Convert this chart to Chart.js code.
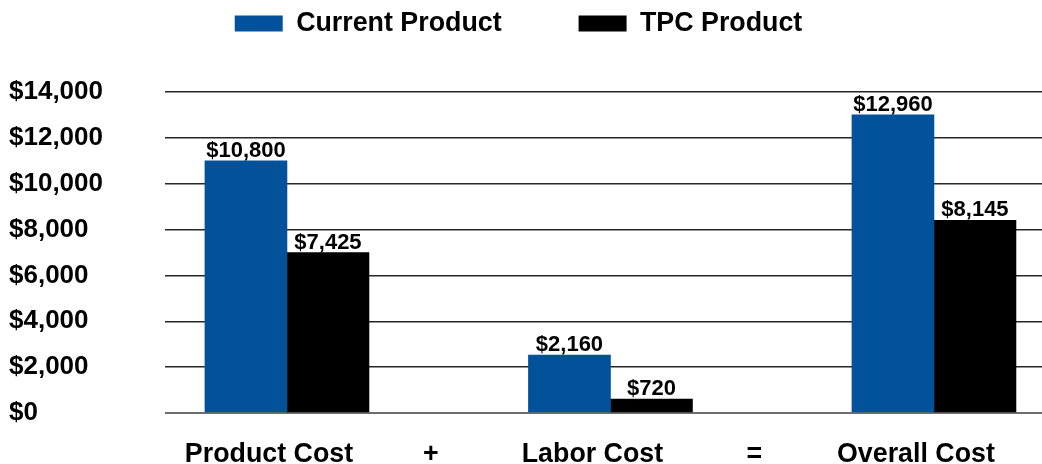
<!DOCTYPE html>
<html>
<head>
<meta charset="utf-8">
<script src="https://cdn.jsdelivr.net/npm/chart.js@4/dist/chart.umd.min.js"></script>
<style>
  html, body { margin: 0; padding: 0; background: #ffffff; }
  #wrap { width: 1042px; height: 464px; position: relative; }
</style>
</head>
<body>
<div id="wrap"><canvas id="c"></canvas></div>
<script>
// ---- data ----
const categories = ['Product Cost', '+', 'Labor Cost', '=', 'Overall Cost'];
const seriesNames = ['Current Product', 'TPC Product'];
// bar heights as drawn in the picture (null = no bar)
const currentProduct = [11000, null, 2530, null, 13000];
const tpcProduct = [7000, null, 610, null, 8400];
// value labels printed above the bars
const currentLabels = ['$10,800', null, '$2,160', null, '$12,960'];
const tpcLabels = ['$7,425', null, '$720', null, '$8,145'];
// y axis ticks
const yTicks = [0, 2000, 4000, 6000, 8000, 10000, 12000, 14000];
const yTickLabels = ['$0', '$2,000', '$4,000', '$6,000', '$8,000', '$10,000', '$12,000', '$14,000'];

const FONT = "'Liberation Sans', Arial, Helvetica, sans-serif";

function toPoints(values) {
  return values.map((v, i) => ({ x: i, y: v })).filter(p => p.y !== null);
}

const valueLabelPlugin = {
  id: 'valueLabels',
  afterDatasetsDraw(chart) {
    const ctx = chart.ctx;
    const labelSets = [currentLabels, tpcLabels];
    ctx.save();
    ctx.font = 'bold 22px ' + FONT;
    ctx.fillStyle = '#000';
    ctx.textAlign = 'center';
    ctx.textBaseline = 'alphabetic';
    chart.data.datasets.forEach((ds, d) => {
      const meta = chart.getDatasetMeta(d);
      meta.data.forEach((el, j) => {
        const idx = ds.data[j].x;
        const txt = labelSets[d][idx];
        if (txt) ctx.fillText(txt, el.x, el.y - 4);
      });
    });
    ctx.restore();
  }
};

const legendSpacePlugin = {
  id: 'legendSpace',
  afterInit(chart) {
    const lg = chart.legend;
    if (!lg) return;
    const origFit = lg.fit;
    lg.fit = function () {
      origFit.call(this);
      this.height = 159;
    };
    const origDraw = lg.draw;
    lg.draw = function () {
      const ctx = this.ctx;
      ctx.save();
      ctx.translate(-7, 0);
      origDraw.call(this);
      ctx.restore();
    };
  }
};

new Chart(document.getElementById('c'), {
  type: 'bar',
  data: {
    datasets: [
      { label: seriesNames[0], data: toPoints(currentProduct), backgroundColor: '#02519b', borderWidth: 0 },
      { label: seriesNames[1], data: toPoints(tpcProduct), backgroundColor: '#000000', borderWidth: 0 }
    ]
  },
  options: {
    responsive: true,
    maintainAspectRatio: false,
    animation: false,
    barThickness: 82,
    layout: { padding: { top: -67, left: 9, right: 0, bottom: 0 } },
    plugins: {
      tooltip: { enabled: false },
      legend: {
        position: 'top',
        align: 'center',
        labels: {
          boxWidth: 48,
          boxHeight: 16,
          padding: 77,
          color: '#000',
          font: { family: FONT, size: 26.8, weight: 'bold' }
        }
      }
    },
    scales: {
      x: {
        type: 'linear',
        offset: false,
        min: -0.754,
        max: 4.668,
        grid: { display: false },
        border: { display: false },
        afterBuildTicks(scale) {
          scale.ticks = categories.map((c, i) => ({ value: i }));
        },
        afterFit(scale) { scale.height = 51; },
        ticks: {
          autoSkip: false,
          maxRotation: 0,
          padding: 18,
          labelOffset: -18,
          color: '#000',
          font: { family: FONT, size: 26.8, weight: 'bold' },
          callback(value) { return categories[value] !== undefined ? categories[value] : ''; }
        }
      },
      y: {
        min: yTicks[0],
        max: yTicks[yTicks.length - 1],
        afterBuildTicks(scale) {
          scale.ticks = yTicks.map(v => ({ value: v }));
        },
        afterFit(scale) { scale.width = 156; },
        border: { display: false },
        grid: {
          drawTicks: false,
          color(ctx) { return ctx.tick && ctx.tick.value === 0 ? '#6e6e6e' : '#262626'; },
          lineWidth(ctx) { return ctx.tick && ctx.tick.value === 0 ? 2 : 1.5; }
        },
        ticks: {
          crossAlign: 'far',
          padding: 0,
          color: '#000',
          font: { family: FONT, size: 26, weight: 'bold' },
          callback(value) {
            const i = yTicks.indexOf(value);
            return i >= 0 ? yTickLabels[i] : '';
          }
        }
      }
    }
  },
  plugins: [valueLabelPlugin, legendSpacePlugin]
});
</script>
</body>
</html>
